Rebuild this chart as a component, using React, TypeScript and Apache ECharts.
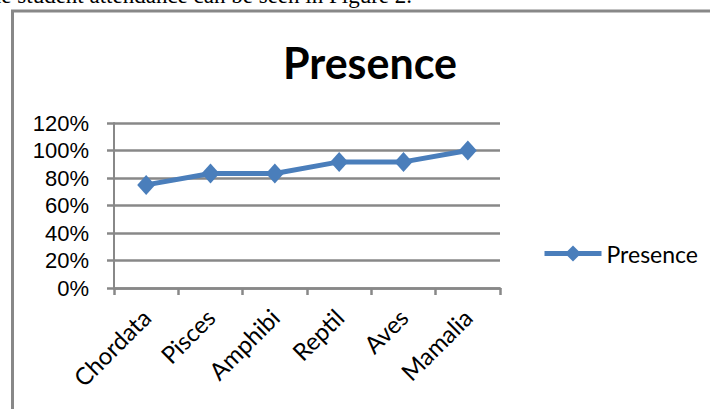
import React, { useEffect, useRef } from "react";
import * as echarts from "echarts";

const categories = ["Chordata", "Pisces", "Amphibi", "Reptil", "Aves", "Mamalia"];
const presence = [0.75, 0.833, 0.833, 0.917, 0.917, 1.0];
const seriesName = "Presence";
const chartTitle = "Presence";
const captionText = "The student attendance can be seen in Figure 2.";
const yMin = 0;
const yMax = 1.2;
const yStep = 0.2;

const GRAY = "#888888";
const BLUE = "#4A7EBB";

export default function App() {
  const ref = useRef<HTMLDivElement>(null);

  useEffect(() => {
    if (!ref.current) return;
    const chart = echarts.init(ref.current, undefined, { renderer: "svg" });
    chart.setOption({
      animation: false,
      backgroundColor: "#ffffff",
      grid: { left: 114, right: 210, top: 123, bottom: 121, containLabel: false },
      graphic: [
        {
          type: "text",
          x: 412,
          y: 6.5,
          style: {
            text: captionText,
            font: '23px "Liberation Serif", serif',
            fill: "#000",
            textAlign: "right",
            textVerticalAlign: "bottom",
          },
        },
        {
          type: "rect",
          shape: { x: 12.5, y: 11, width: 720, height: 420 },
          style: { fill: "none", stroke: GRAY, lineWidth: 3 },
        },
        {
          type: "text",
          x: 370,
          y: 62,
          style: {
            text: chartTitle,
            font: 'bold 43px Lato, sans-serif',
            fill: "#000",
            textAlign: "center",
            textVerticalAlign: "middle",
          },
        },
      ],
      legend: {
        left: 537,
        top: 237,
        orient: "vertical",
        itemWidth: 57,
        itemHeight: 20,
        itemGap: 5,
        lineStyle: { width: 5, color: BLUE },
        textStyle: { fontFamily: "Lato", fontSize: 23, color: "#000" },
        data: [seriesName],
      },
      xAxis: {
        type: "category",
        data: categories,
        boundaryGap: true,
        axisLine: { show: true, lineStyle: { color: GRAY, width: 2.5 } },
        axisTick: { show: true, alignWithLabel: false, length: 7, lineStyle: { color: GRAY, width: 2.5 } },
        axisLabel: {
          interval: 0,
          rotate: 45,
          margin: 25,
          fontFamily: "Lato",
          fontSize: 24,
          color: "#000",
        },
        splitLine: { show: false },
      },
      yAxis: {
        type: "value",
        min: yMin,
        max: yMax,
        interval: yStep,
        axisLine: { show: true, lineStyle: { color: GRAY, width: 2 } },
        axisTick: { show: true, length: 7, lineStyle: { color: GRAY, width: 2.5 } },
        axisLabel: {
          margin: 25,
          fontFamily: '"Liberation Sans", Arial, sans-serif',
          fontSize: 22,
          color: "#000",
          formatter: (v: number) => Math.round(v * 100) + "%",
        },
        splitLine: { show: true, lineStyle: { color: GRAY, width: 2.5 } },
      },
      series: [
        {
          name: seriesName,
          type: "line",
          data: presence,
          symbol: "diamond",
          symbolSize: [18, 20],
          itemStyle: { color: BLUE },
          lineStyle: { color: BLUE, width: 5 },
          smooth: false,
        },
      ],
    });
    return () => chart.dispose();
  }, []);

  return (
    <div
      ref={ref}
      style={{ position: "absolute", left: 0, top: 0, width: 710, height: 409, background: "#fff" }}
    />
  );
}
